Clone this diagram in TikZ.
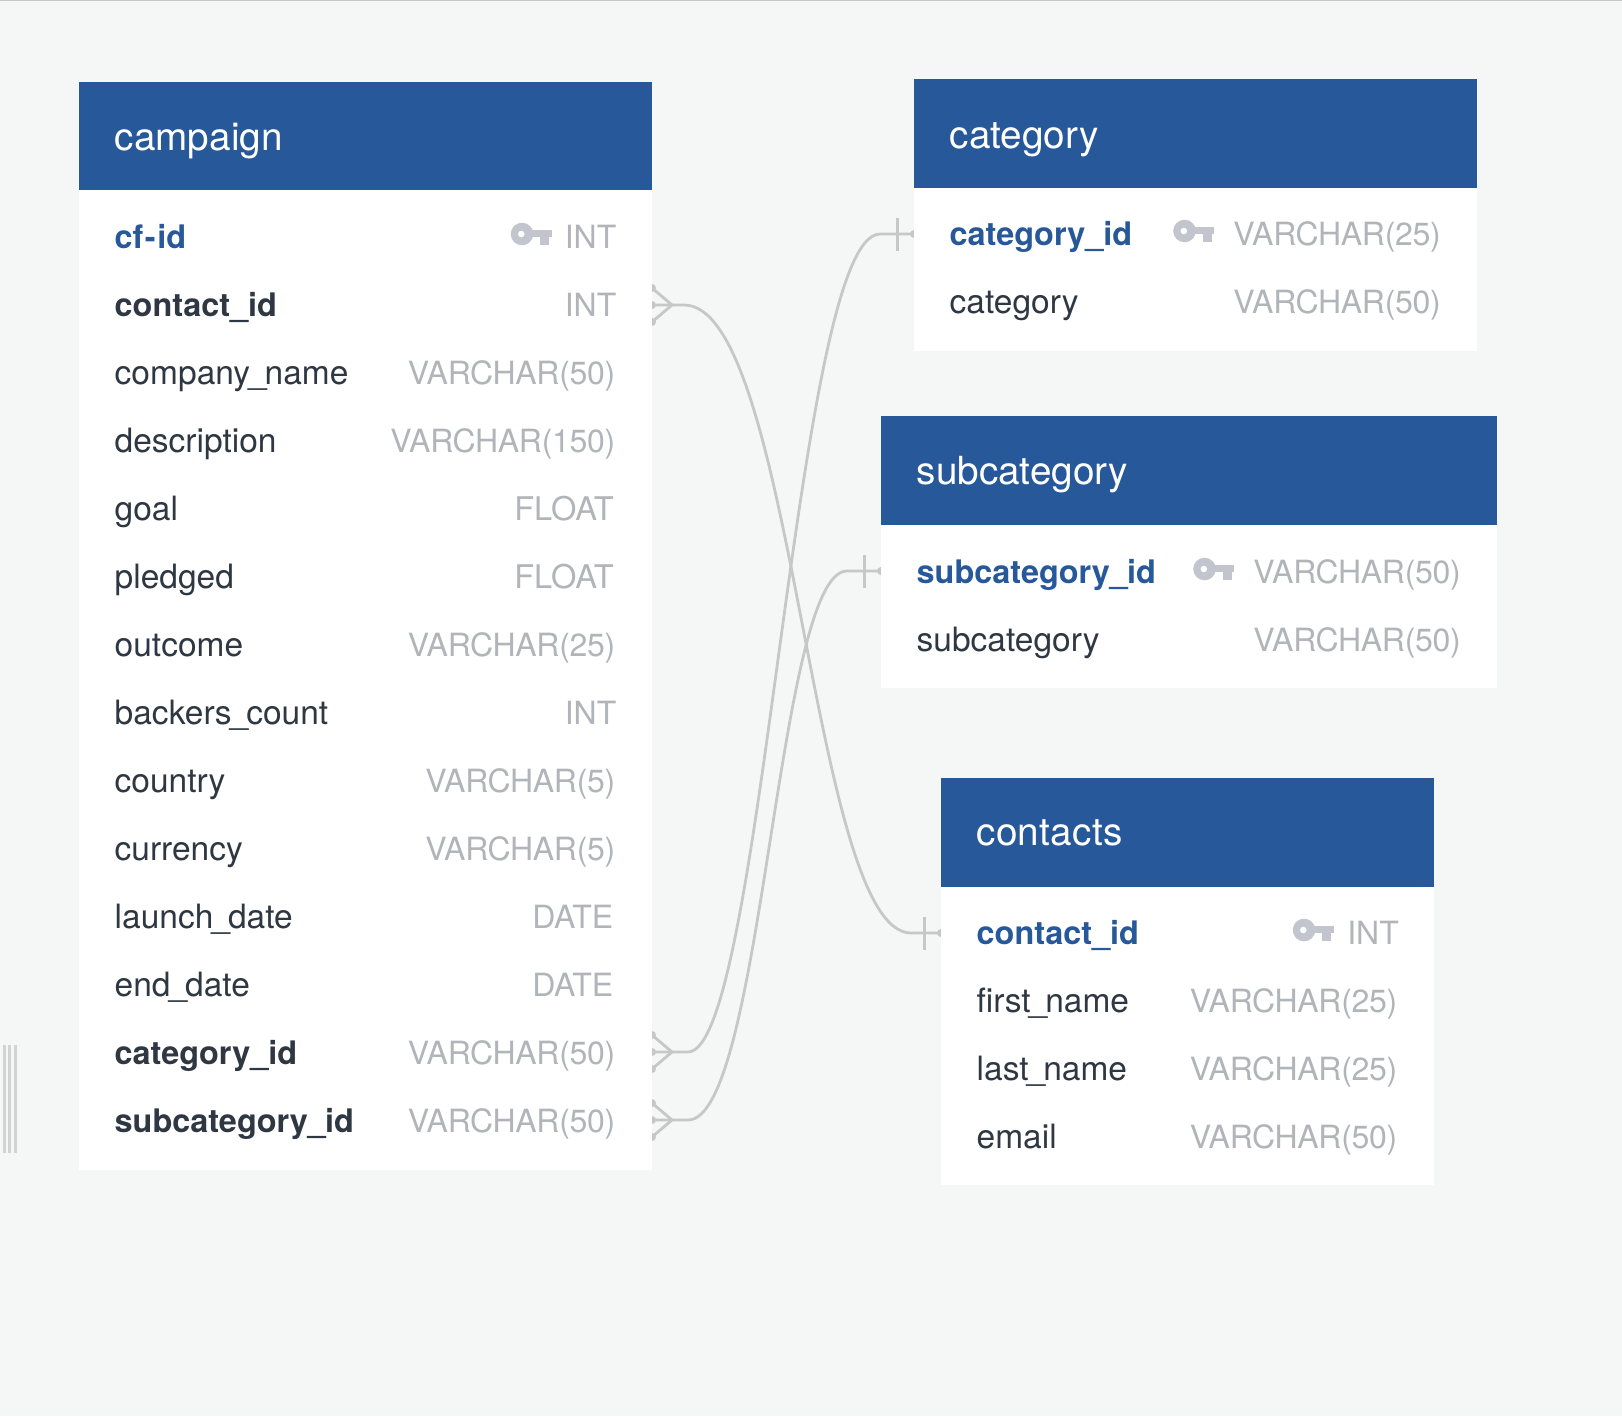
\documentclass[tikz,border=0pt]{standalone}
\usepackage{fontspec}
\setmainfont{TeX Gyre Heros}
\usetikzlibrary{calc}
\definecolor{bgc}{HTML}{F5F7F6}
\definecolor{headc}{HTML}{26589A}
\definecolor{darkc}{HTML}{2F3842}
\definecolor{greyc}{HTML}{B1B4B8}
\definecolor{keyc}{HTML}{C2C5CE}
\definecolor{linec}{HTML}{C6C8C7}
\newcommand{\usc}{\kern-2pt\_\kern-2pt}
\tikzset{
  x=1pt,y=-1pt,
  head/.style={fill=headc,draw=none,inner sep=0,anchor=north west},
  bodybox/.style={fill=white,draw=none,inner sep=0,anchor=north west},
  title/.style={anchor=base west,inner sep=0,text=white,font=\fontsize{38.7}{40}\selectfont},
  field/.style={anchor=base west,inner sep=0,text=darkc,font=\fontsize{33.5}{36}\selectfont},
  fk/.style={anchor=base west,inner sep=0,text=darkc,font=\fontsize{32.4}{36}\selectfont\bfseries},
  pk/.style={anchor=base west,inner sep=0,text=headc,font=\fontsize{32.4}{36}\selectfont\bfseries},
  ftype/.style={anchor=base east,inner sep=0,text=greyc,font=\fontsize{32}{36}\selectfont},
  ftypeb/.style={anchor=base east,inner sep=0,text=greyc,font=\fontsize{32.6}{36}\selectfont},
  vtype/.style={anchor=base east,inner sep=0,text=greyc,font=\fontsize{32}{36}\selectfont\addfontfeatures{LetterSpace=-0.9}},
  rel/.style={draw=linec,line width=2.8pt},
  reltip/.style={draw=linec,line width=2.8pt},
  reldot/.style={fill=linec,draw=none},
  stray/.style={draw=linec!75!bgc,line width=3pt},
  keyicon/.pic={
    \fill[keyc,even odd rule] (0,0) circle[radius=11.3] (-0.7,0) circle[radius=3.4];
    \fill[keyc] (8,-4.3) rectangle (29.8,3.2);
    \fill[keyc] (18,3) rectangle (27,11.3);
  }
}
\newcommand{\crowfoot}[1]{%
  \draw[rel] (#1) -- ++(20,0);
  \draw[reltip] ($(#1)+(0,-17)$) -- ($(#1)+(20,0)$) -- ($(#1)+(0,17)$);
  \fill[reldot] (#1) circle[radius=4];
  \fill[reldot] ($(#1)+(0,-17)$) circle[radius=4];
  \fill[reldot] ($(#1)+(0,17)$) circle[radius=4];
}
\newcommand{\onebar}[1]{%
  \draw[reltip] ($(#1)+(-16.5,-16.5)$) -- ($(#1)+(-16.5,16.5)$);
  \fill[reldot] (#1) circle[radius=4];
}
\begin{document}
\begin{tikzpicture}
\useasboundingbox (0,0) rectangle (1622,1416);
\fill[bgc] (0,0) rectangle (1622,1416);
\draw[draw=black!22,line width=1.5pt] (0,0.5) -- (1622,0.5);
% stray lines at the left
\foreach \sx in {4,9.5,15}{\draw[stray] (\sx,1045) -- (\sx,1153);}
% end points
\coordinate (cContact) at (652,305);
\coordinate (cCategory) at (652,1052);
\coordinate (cSubcat) at (652,1120);
\coordinate (eContact) at (941,933);
\coordinate (eCategory) at (914,234);
\coordinate (eSubcat) at (881,571);
% connectors
\draw[rel] (cContact) -- ++(32,0) .. controls +(110,0) and +(-100,0) .. ($(eContact)+(-30,0)$) -- (eContact);
\draw[rel] (cCategory) -- ++(36,0) .. controls +(75,0) and +(-85,0) .. ($(eCategory)+(-34,0)$) -- (eCategory);
\draw[rel] (cSubcat) -- ++(36,0) .. controls +(75,0) and +(-70,0) .. ($(eSubcat)+(-34,0)$) -- (eSubcat);
\crowfoot{cContact}\crowfoot{cCategory}\crowfoot{cSubcat}
\onebar{eContact}\onebar{eCategory}\onebar{eSubcat}
% campaign
\node[bodybox,minimum width=573pt,minimum height=979.5pt] (campaignBody) at (79,190) {};
\node[head,minimum width=573pt,minimum height=108pt] (campaignHead) at (79,82) {};
\node[title] (campaignT) at (114.5,150) {campaign};
\node[pk] (r1) at (114.5,248) {cf\kern1.5pt-\kern1.5pt id};
\node[fk] (r2) at (114.5,316) {contact\_id};
\node[field] (r3) at (114.5,384) {company\usc name};
\node[field] (r4) at (114.5,452) {description};
\node[field] (r5) at (114.5,520) {goal};
\node[field] (r6) at (114.5,588) {pledged};
\node[field] (r7) at (114.5,656) {outcome};
\node[field] (r8) at (114.5,724) {backers\usc count};
\node[field] (r9) at (114.5,792) {country};
\node[field] (r10) at (114.5,860) {currency};
\node[field] (r11) at (114.5,928) {launch\usc date};
\node[field] (r12) at (114.5,996) {end\usc date};
\node[fk] (r13) at (114.5,1064) {category\_id};
\node[fk] (r14) at (114.5,1132) {subcategory\kern-0.5pt\_\kern-0.5pt id};
\pic at (522,234) {keyicon};
\node[ftype] (t1) at (616.5,248) {INT};
\node[ftype] (t2) at (616.5,316) {INT};
\node[vtype] (t3) at (615.5,384) {VARCHAR(50)};
\node[vtype] (t4) at (615.5,452) {VARCHAR(150)};
\node[ftypeb] (t5) at (614,520) {FLOAT};
\node[ftypeb] (t6) at (614,588) {FLOAT};
\node[vtype] (t7) at (615.5,656) {VARCHAR(25)};
\node[ftype] (t8) at (616.5,724) {INT};
\node[vtype] (t9) at (615.5,792) {VARCHAR(5)};
\node[vtype] (t10) at (615.5,860) {VARCHAR(5)};
\node[ftype] (t11) at (613.5,928) {DATE};
\node[ftype] (t12) at (613.5,996) {DATE};
\node[vtype] (t13) at (615.5,1064) {VARCHAR(50)};
\node[vtype] (t14) at (615.5,1132) {VARCHAR(50)};
% category
\node[bodybox,minimum width=563pt,minimum height=163pt] (catBody) at (914,187.5) {};
\node[head,minimum width=563pt,minimum height=108.5pt] (catHead) at (914,79) {};
\node[title] (catT) at (949.5,148) {category};
\node[pk] (ca1) at (949.5,245) {category\_id};
\node[field] (ca2) at (949.5,313) {category};
\pic at (1184.5,231) {keyicon};
\node[vtype] (cat1) at (1441,245) {VARCHAR(25)};
\node[vtype] (cat2) at (1441,313) {VARCHAR(50)};
% subcategory
\node[bodybox,minimum width=616pt,minimum height=163.5pt] (subBody) at (881,524.5) {};
\node[head,minimum width=616pt,minimum height=108.5pt] (subHead) at (881,416) {};
\node[title] (subT) at (916.5,484) {subcategory};
\node[pk] (su1) at (916.5,583) {subcategory\kern-0.5pt\_\kern-0.5pt id};
\node[field] (su2) at (916.5,651) {subcategory};
\pic at (1204.5,569) {keyicon};
\node[vtype] (sut1) at (1461,583) {VARCHAR(50)};
\node[vtype] (sut2) at (1461,651) {VARCHAR(50)};
% contacts
\node[bodybox,minimum width=493pt,minimum height=298pt] (conBody) at (941,886.5) {};
\node[head,minimum width=493pt,minimum height=108.5pt] (conHead) at (941,778) {};
\node[title] (conT) at (976.5,845) {cont\kern0.5pt a\kern0.5pt c\kern0.5pt t\kern0.5pt s};
\node[pk] (co1) at (976.5,944) {contact\_id};
\node[field] (co2) at (976.5,1012) {first\usc name};
\node[field] (co3) at (976.5,1080) {last\usc name};
\node[field] (co4) at (976.5,1148) {email};
\pic at (1304,930) {keyicon};
\node[ftype] (cot1) at (1399,944) {INT};
\node[vtype] (cot2) at (1397.5,1012) {VARCHAR(25)};
\node[vtype] (cot3) at (1397.5,1080) {VARCHAR(25)};
\node[vtype] (cot4) at (1397.5,1148) {VARCHAR(50)};
\end{tikzpicture}
\end{document}
